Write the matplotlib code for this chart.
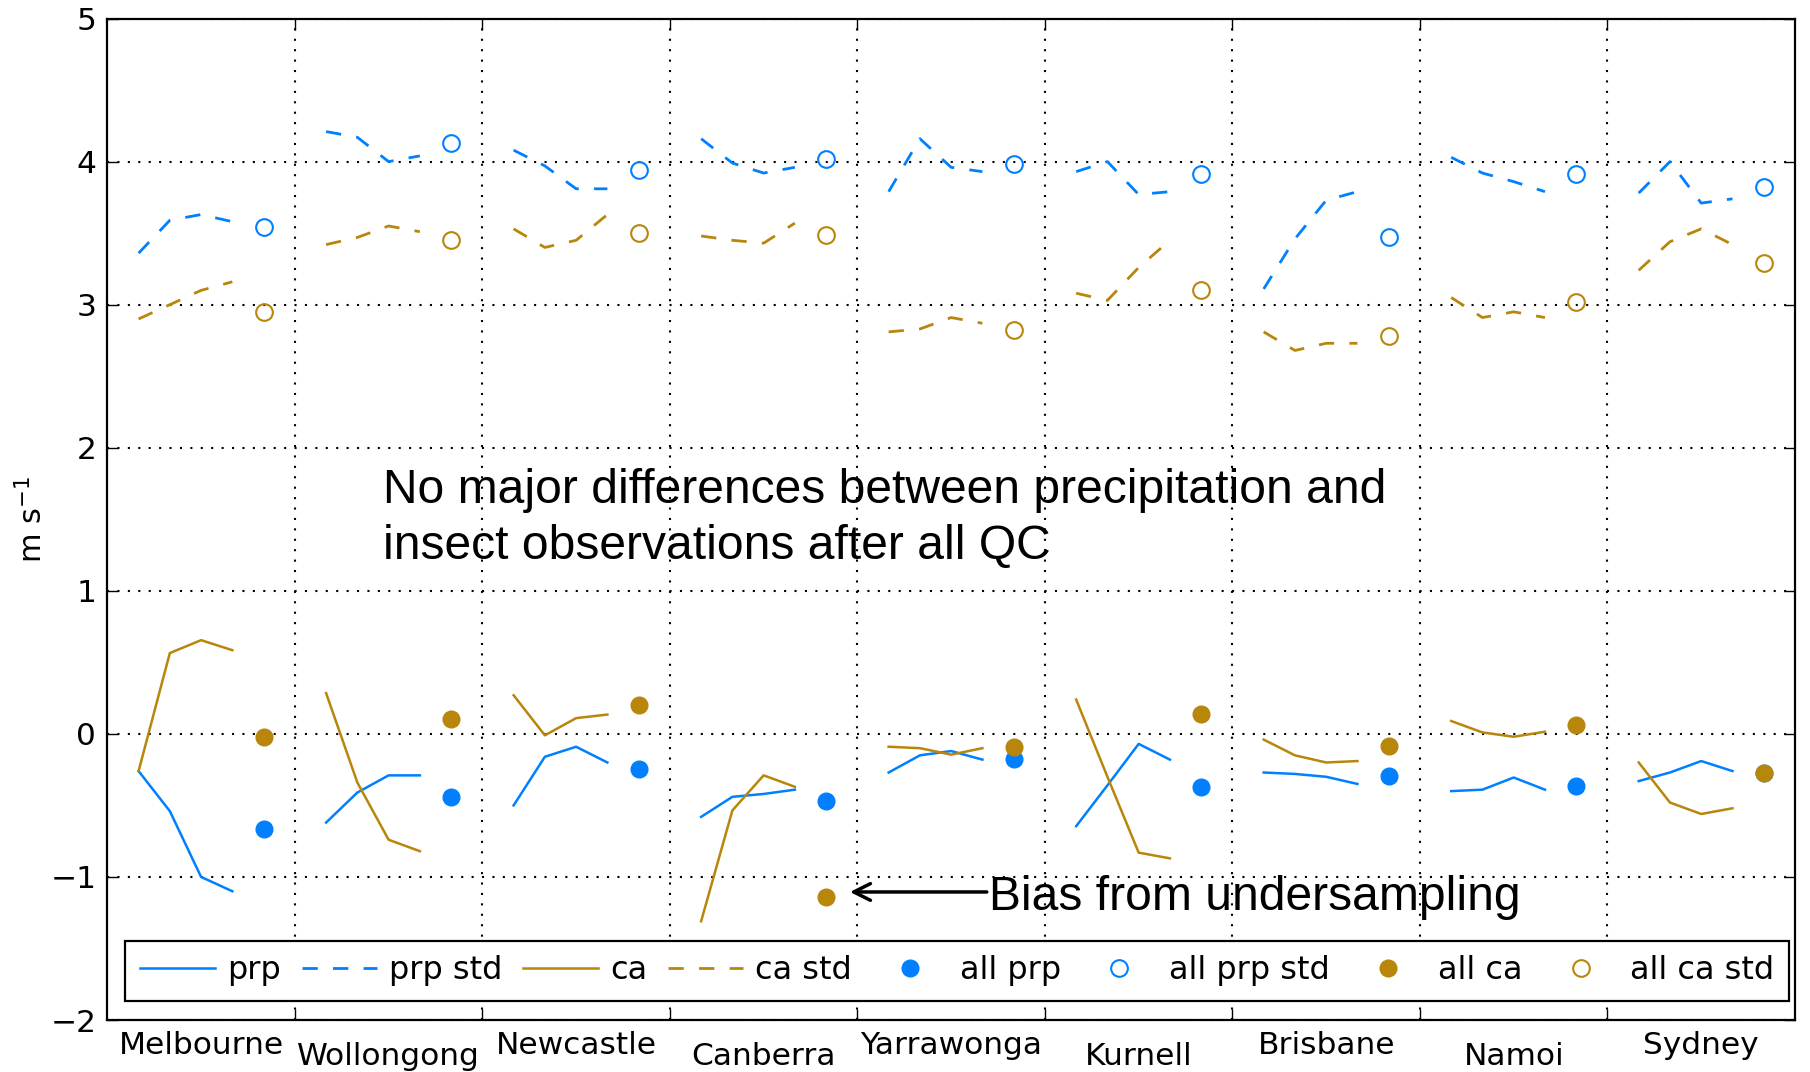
import numpy as np
import matplotlib
matplotlib.use('Agg')
import matplotlib.pyplot as plt

# stations along the x axis
stations = ['Melbourne', 'Wollongong', 'Newcastle', 'Canberra', 'Yarrawonga',
            'Kurnell', 'Brisbane', 'Namoi', 'Sydney']

# four sub-period values per station
prp = [[-0.26, -0.54, -1.00, -1.10], [-0.62, -0.41, -0.29, -0.29], [-0.50, -0.16, -0.09, -0.20],
       [-0.58, -0.44, -0.42, -0.39], [-0.27, -0.15, -0.12, -0.18], [-0.645, -0.36, -0.07, -0.18],
       [-0.27, -0.28, -0.30, -0.35], [-0.40, -0.39, -0.305, -0.39], [-0.33, -0.27, -0.19, -0.26]]
prp_std = [[3.36, 3.59, 3.63, 3.58], [4.21, 4.17, 4.00, 4.04], [4.08, 3.97, 3.81, 3.81],
           [4.16, 3.99, 3.92, 3.96], [3.79, 4.16, 3.96, 3.93], [3.93, 4.00, 3.77, 3.79],
           [3.11, 3.46, 3.73, 3.79], [4.03, 3.92, 3.86, 3.79], [3.78, 4.00, 3.71, 3.74]]
ca = [[-0.26, 0.565, 0.655, 0.585], [0.285, -0.34, -0.74, -0.82], [0.27, -0.01, 0.11, 0.135],
      [-1.31, -0.535, -0.29, -0.37], [-0.09, -0.10, -0.145, -0.10], [0.24, -0.30, -0.83, -0.87],
      [-0.04, -0.15, -0.20, -0.19], [0.09, 0.01, -0.02, 0.015], [-0.20, -0.48, -0.56, -0.52]]
ca_std = [[2.90, 3.00, 3.10, 3.16], [3.42, 3.47, 3.55, 3.51], [3.53, 3.40, 3.45, 3.63],
          [3.48, 3.45, 3.43, 3.57], [2.81, 2.83, 2.91, 2.87], [3.08, 3.03, 3.26, 3.45],
          [2.81, 2.68, 2.73, 2.73], [3.05, 2.91, 2.95, 2.91], [3.24, 3.44, 3.53, 3.42]]

# whole-period values per station
all_prp = [-0.663, -0.44, -0.249, -0.472, -0.175, -0.368, -0.296, -0.365, -0.272]
all_prp_std = [3.54, 4.13, 3.94, 4.02, 3.98, 3.91, 3.47, 3.91, 3.82]
all_ca = [-0.023, 0.105, 0.20, -1.14, -0.093, 0.14, -0.082, 0.065, -0.27]
all_ca_std = [2.95, 3.45, 3.50, 3.49, 2.82, 3.10, 2.78, 3.02, 3.29]

blue = '#0080ff'
gold = '#b8860b'

fig = plt.figure(figsize=(18.1, 10.72), dpi=100)
ax = fig.add_axes([0.0593, 0.0485, 0.9324, 0.9342])

sub = np.arange(1, 5) / 6.0
dash = (5.5, 5.5)
for i in range(len(stations)):
    x = i + sub
    lab = (i == 0)
    ax.plot(x, prp[i], color=blue, lw=1.8, label='prp' if lab else None)
    ax.plot(x, prp_std[i], color=blue, lw=2, dashes=dash, label='prp std' if lab else None)
    ax.plot(x, ca[i], color=gold, lw=1.8, label='ca' if lab else None)
    ax.plot(x, ca_std[i], color=gold, lw=2, dashes=dash, label='ca std' if lab else None)

xm = np.arange(len(stations)) + 5 / 6.0
ax.plot(xm, all_prp, 'o', color=blue, ms=12, mec=blue, label='all prp')
ax.plot(xm, all_prp_std, 'o', mfc='none', mec=blue, ms=12, mew=1.5, label='all prp std')
ax.plot(xm, all_ca, 'o', color=gold, ms=12, mec=gold, label='all ca')
ax.plot(xm, all_ca_std, 'o', mfc='none', mec=gold, ms=12, mew=1.5, label='all ca std')

ax.set_xlim(0, len(stations))
ax.set_ylim(-2, 5)
ax.set_xticks(np.arange(1, len(stations)))
ax.set_xticklabels([])
ax.set_yticks(np.arange(-2, 6))
ax.tick_params(axis='both', direction='in', length=8, width=1, top=True, right=True,
               labelsize=22.5, pad=8)
ax.grid(True, color='k', linestyle=(0, (1, 4)), lw=1.5)
for s in ax.spines.values():
    s.set_linewidth(1.6)

# station names, alternating heights
for i, name in enumerate(stations):
    ax.annotate(name, (i + 0.5, 0), xycoords=('data', 'axes fraction'),
                xytext=(0, -8 if i % 2 == 0 else -16), textcoords='offset points',
                ha='center', va='top', fontsize=22.5)

ax.set_ylabel(r'm s$^{-1}$', fontsize=22, labelpad=1)

leg = ax.legend(loc='lower center', bbox_to_anchor=(0.5035, 0), ncol=8, fontsize=23,
                numpoints=1, handlelength=2.35, handletextpad=0.38, columnspacing=0.65,
                fancybox=False, framealpha=1, edgecolor='k', borderaxespad=0.6, borderpad=0.45)
leg.get_frame().set_linewidth(1.6)

ax.text(1.47, 1.86, 'No major differences between precipitation and\ninsect observations after all QC',
        fontsize=34.6, family='Liberation Sans', va='top', ha='left', linespacing=1.32)
ax.text(4.70, -1.233, 'Bias from undersampling', fontsize=34.6, family='Liberation Sans',
        va='baseline', ha='left')
ax.annotate('', xy=(3.96, -1.105), xytext=(4.69, -1.105),
            arrowprops=dict(arrowstyle='->', lw=2.5, color='k', mutation_scale=30,
                            shrinkA=0, shrinkB=0))

fig.savefig('out.png', dpi=100)
